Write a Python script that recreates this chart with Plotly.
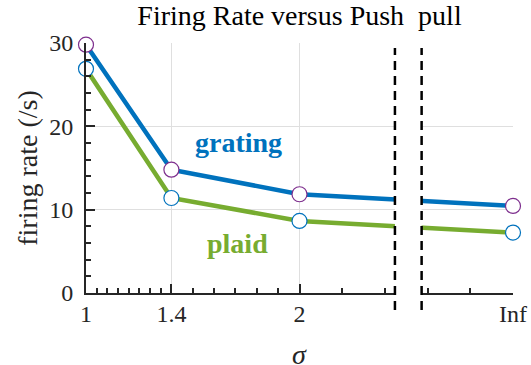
import plotly.graph_objects as go

# ---- data ----
sigma_labels = ["1", "1.4", "2", "Inf"]
sigma_pos = [1.0, 1.4, 2.0, 3.0]          # axis position used for each sigma (Inf placed after the break)
grating = [29.8, 14.8, 11.85, 10.45]
plaid = [26.9, 11.4, 8.65, 7.25]
break_range = [2.447, 2.572]                # broken-axis gap on the x axis
x_minor = [1.05, 1.10, 1.15, 1.20, 1.25, 1.30, 1.35,
           1.5, 1.6, 1.7, 1.8, 1.9, 2.2, 2.4, 2.6, 2.8]

BLUE = "#0072BD"
GREEN = "#77AC30"
PURPLE = "#7E2F8E"
AX = "#262626"
GRID = "#DFDFDF"
SERIF = "Liberation Serif, Times New Roman, serif"

fig = go.Figure()
fig.add_trace(go.Scatter(x=sigma_pos, y=grating, mode="lines", cliponaxis=False,
                         line=dict(color=BLUE, width=4.5), showlegend=False))
fig.add_trace(go.Scatter(x=sigma_pos, y=plaid, mode="lines", cliponaxis=False,
                         line=dict(color=GREEN, width=4.5), showlegend=False))
fig.add_trace(go.Scatter(x=sigma_pos, y=grating, mode="markers", cliponaxis=False,
                         marker=dict(size=15, color="white", line=dict(color=PURPLE, width=1.2)),
                         showlegend=False))
fig.add_trace(go.Scatter(x=sigma_pos, y=plaid, mode="markers", cliponaxis=False,
                         marker=dict(size=15, color="white", line=dict(color=BLUE, width=1.2)),
                         showlegend=False))

# broken-axis gap and dashed markers
fig.add_shape(type="rect", xref="x", yref="paper",
              x0=break_range[0], x1=break_range[1], y0=-0.03, y1=1.03,
              fillcolor="white", line=dict(width=0), layer="above")
for xb in break_range:
    fig.add_shape(type="line", xref="x", yref="paper", x0=xb, x1=xb, y0=-0.068, y1=0.98,
                  line=dict(color="black", width=2.5, dash="9px,6px"), layer="above")

fig.add_annotation(x=1.715, y=18.05, text="<b>grating</b>", showarrow=False,
                   font=dict(family=SERIF, size=28, color=BLUE))
fig.add_annotation(x=1.708, y=6.0, text="<b>plaid</b>", showarrow=False,
                   font=dict(family=SERIF, size=28, color=GREEN))
# x-axis title (sigma), near the bottom edge as in the original
fig.add_annotation(x=0.5, xref="paper", y=-0.176, yref="paper", yanchor="top",
                   text="<i>σ</i>", showarrow=False,
                   font=dict(family=SERIF, size=28, color=AX))

fig.update_layout(
    width=531, height=365,
    margin=dict(l=86, r=18, t=43, b=72, autoexpand=False),
    paper_bgcolor="white", plot_bgcolor="white",
    title=dict(text="Firing Rate versus Push\u00a0\u00a0pull", x=0.5, xanchor="center",
               xref="paper", y=1, yref="container", yanchor="top", pad=dict(t=5),
               font=dict(family=SERIF, size=28, color="black")),
    font=dict(family=SERIF, color=AX),
)
fig.update_xaxes(
    range=[1, 3.0], tickmode="array", tickvals=sigma_pos, ticktext=sigma_labels,
    automargin=True,
    ticks="inside", ticklen=9, tickwidth=2, tickcolor=AX, ticklabelstandoff=-2,
    showline=True, linecolor=AX, linewidth=2,
    showgrid=True, gridcolor=GRID, gridwidth=1.2, zeroline=False,
    tickfont=dict(family=SERIF, size=24, color=AX),
    minor=dict(tickmode="array", tickvals=x_minor, ticks="inside", ticklen=5,
               tickwidth=2, tickcolor=AX, showgrid=False),
)
fig.update_yaxes(
    range=[0, 30], tickvals=[0, 10, 20, 30], automargin=True,
    ticks="inside", ticklen=9, tickwidth=2, tickcolor=AX, ticklabelstandoff=6,
    showline=True, linecolor=AX, linewidth=2,
    showgrid=True, gridcolor=GRID, gridwidth=1.2, zeroline=False,
    tickfont=dict(family=SERIF, size=24, color=AX),
    minor=dict(dtick=2, ticks="inside", ticklen=5, tickwidth=2, tickcolor=AX, showgrid=False),
    title=dict(text="firing rate (/s)", font=dict(family=SERIF, size=28, color=AX), standoff=3),
)

fig.write_html("out.html")
